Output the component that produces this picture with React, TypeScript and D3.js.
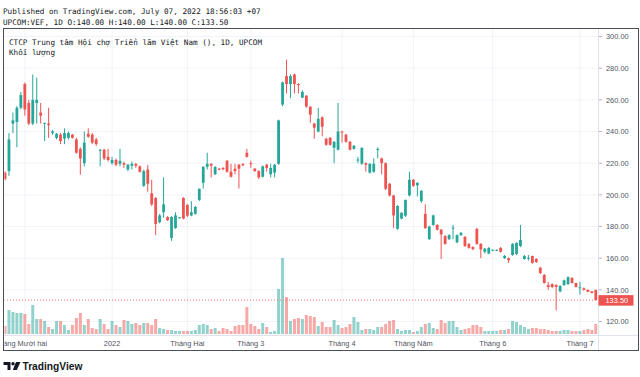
import React, { useEffect } from "react";
import * as d3 from "d3";

// ---- DATA ----
const opens = [214,215,245,246,255,270,258,245,258,252,245,245,239,236,238,235.5,236,238,235,229,220,238.6,238,235,228,228.5,224,220,222,219.6,220,216,218.4,219.6,218,205.7,216,201,198,182.7,189,186,172.8,179,185.5,198,193.7,187,188,196.8,207.6,217.7,219.6,213,216.5,217,221.5,214.6,216.5,219,219.5,226.6,220,216.5,215,211.4,219,213,214,219.6,257,275,270,276,270,261.4,262.6,255.7,245,240,249,235.4,236,229.7,228.5,240,238,233.5,229,222,219.6,220,214,214.6,228.5,223,220,207,199.6,178.5,185,186.8,199.6,209.5,206,196,188,172,181,181,178,174,172,179,170,174.6,173.4,169,167,178.5,169,164,163,165,165,166.5,160,160,162,162.6,167.7,159.5,160,161.4,159.5,154,149.4,143,143.7,143,139,143,143.7,147.5,144.3,141.4,141,140,139,140];
const highs = [215,239,252,256,265,271,260,276,274,258,245.5,255,241,239,239,242,240,238.5,236,230,240,242,239,236,229,229,229,224,223,229,221,219.5,221,220,218.5,216,219,209.5,198.5,188,211,186.5,186.5,189,186,198.5,194,196,193,204,218,226.6,220,218,217,217.5,222,219.6,219.6,219.5,220,229,221.5,217,215.5,218.5,219.5,219.6,219.5,247.5,271.5,285.4,276,276.5,270.5,266,263,256,245.5,255,249.5,236,236.5,234,258,240.5,238.5,234,231.5,224,230,220.5,220,223,230,223.5,220.5,207.5,200,193.5,189,197,214.6,210,208,203,194,180.5,187.5,181.5,178.5,174.5,175,181,175,176.5,174,169.5,167.5,179,169.5,166.5,167,165.5,165.5,167,162,160.5,169.5,170,181,162,162,161.5,160,154.5,150,145,144,143.5,143,146.5,148.5,148,144.5,145,141.5,140.2,139.2,140];
const lows = [209,212,239,230,254,250,244,244,245,245,234,236,238,235,232,232,235,235.5,226,212.7,218,236,232,231,218,222,221,219,218,218,217,215,216,217,214,205,202,193,174.6,182,185.5,183.5,171,178.5,185,184.5,186,186.5,187.5,196,204,216,211,212.5,215.5,215.5,214,211,213,204,218,223.5,217,214.5,210,211,214.6,211,211,219,256,264,261,264,264,261,255,245.6,235.4,239.5,237,231,231,220,228,233,233,228,228.5,220,219,214.6,213.5,214,223,213,203,199,179,178,184.5,186,199,205,199,195,178.5,171.5,180.5,177.5,159.5,168.5,171.5,172,169.5,174,167,166,165,168.5,160,163,162.5,164.5,164.5,163.5,159.5,157,161.5,162,167,159,158.5,156.5,157,150,144,140,141,127,138.5,142.5,143,144,141.5,137,139.5,138.5,137.8,133.5];
const closes = [210,235,247,255,263,254,245,260,260,250,245.5,244,240,238.6,234,239,239,236,226.6,223,233,236.7,233,232,228.5,223,222,222,219,221.5,219,219,219.6,218.4,214.6,215,207,194,181.6,187,194,184,186,187,185.8,185,186.8,189,192.4,203.8,217.7,219.6,218.4,217.7,216,216.2,214.6,211.4,215,216.5,218.8,224,219.6,215,211,218,217,217,219,247,271,270,275,270,269.6,265,255.7,250.6,242.4,248,243,231.6,231.6,233.5,240,239.5,233.5,228.5,231,222.3,229.7,219,219.6,219.6,229,220,203.8,199.6,187,193,188.6,196.8,209.5,205.7,207.6,202.5,179,180,187,178,175,169,174.6,179.3,174.6,176,167.7,166.5,165.8,169,165.5,166,166.5,165.3,165.3,164,161.4,158.7,169,169.6,171.5,161.4,160.3,157,157.6,150.6,144.3,141.8,141.8,141.8,142.4,146,148,144.3,141.8,141.6,140,138.7,138,133.5];
const volumes = [8,24,22,21,21,20,10,29,15,15,13,7,5,13,13,9,4,9,16,21,9,15,6,5,15,10,5,13,9,7,14,13,10,11,9,11,11,9,15,6,5,4,4,3,3,3,3,3,4,9,10,9,5,6,3,6,5,3,8,9,9,27,10,8,5,11,7,2,3,45,76,37,13,15,16,15,19,18,17,8,12,7,7,14,9,6,7,10,17,12,4,5,5,4,7,7,10,13,14,5,3,4,4,2,3,7,10,11,6,5,14,11,13,13,7,4,5,6,9,9,7,3,3,3,3,4,4,5,13,12,9,7,5,6,6,5,5,4,3,3,3,4,4,3,3,3,4,5,4,10];
const monthIndex = [5, 27, 46, 62, 85, 103, 123, 145];
const monthLabels = ["Tháng Mười hai", "2022", "Tháng Hai", "Tháng 3", "Tháng 4", "Tháng Năm", "Tháng 6", "Tháng 7"];
const priceTicks = [120, 140, 160, 180, 200, 220, 240, 260, 280, 300];
const lastPrice = 133.5;
const headerLine1 = "Published on TradingView.com, July 07, 2022 18:56:03 +07";
const headerLine2 = "UPCOM:VEF, 1D O:140.00 H:140.00 L:140.00 C:133.50";
const legendTitle = "CTCP Trung tâm Hội chợ Triển lãm Việt Nam (), 1D, UPCOM";
const legendVolume = "Khối lượng";

const UP = "#26a69a";
const DOWN = "#ef5350";
const UP_VOL = "rgba(38,166,154,0.5)";
const DOWN_VOL = "rgba(239,83,80,0.5)";

export default function App() {
  useEffect(() => {
    document.body.style.margin = "0";
  }, []);

  const W = 640, Hh = 377;
  const paneL = 4, paneR = 598, paneT = 29, paneB = 335, frameB = 350, frameR = 638;

  const x = d3.scaleLinear().domain([0, opens.length - 1]).range([5, 595.8]);
  const y = d3.scaleLinear().domain([120, 300]).range([321.5, 36.5]);
  const yv = d3.scaleLinear().domain([0, 76]).range([334, 258]);

  const bodyW = 2.8;
  const mono = "'DejaVu Sans Mono', monospace";
  const sans = "'Liberation Sans', Arial, sans-serif";

  return (
    <svg width={W} height={Hh} style={{ position: "absolute", left: 0, top: 0, background: "#fff" }}>
      <defs>
        <clipPath id="pane">
          <rect x={paneL + 0.5} y={paneT} width={paneR - paneL - 1} height={paneB - paneT} />
        </clipPath>
        <clipPath id="timeaxis">
          <rect x={paneL + 0.5} y={paneB} width={paneR - paneL - 1} height={frameB - paneB} />
        </clipPath>
      </defs>
      <rect x={0} y={0} width={W} height={Hh} fill="#fff" />

      <text x={3} y={13.7} fontFamily={mono} fontSize={7.65} fill="#131722">{headerLine1}</text>
      <text x={3} y={25.4} fontFamily={mono} fontSize={7.65} fill="#131722">{headerLine2}</text>

      {/* grid */}
      <g clipPath="url(#pane)">
        {priceTicks.map((t) => (
          <line key={"h" + t} x1={paneL} x2={paneR} y1={y(t)} y2={y(t)} stroke="#f0f3fa" strokeWidth={1} />
        ))}
        {monthIndex.map((m) => (
          <line key={"v" + m} x1={x(m)} x2={x(m)} y1={paneT} y2={paneB} stroke="#f0f3fa" strokeWidth={1} />
        ))}

        {/* volume */}
        {volumes.map((v, i) => (
          <rect key={"vol" + i} x={x(i) - 1.5} y={yv(v)} width={3} height={yv(0) - yv(v)}
            fill={closes[i] >= opens[i] ? UP_VOL : DOWN_VOL} />
        ))}

        {/* price line */}
        <line x1={paneL} x2={paneR} y1={y(lastPrice)} y2={y(lastPrice)} stroke={DOWN} strokeOpacity={0.8} strokeWidth={1} strokeDasharray="1,2" />

        {/* candles */}
        {opens.map((o, i) => {
          const c = closes[i];
          const col = c >= o ? UP : DOWN;
          const top = y(Math.max(o, c));
          const bot = y(Math.min(o, c));
          return (
            <g key={"c" + i}>
              <line x1={x(i)} x2={x(i)} y1={y(highs[i])} y2={y(lows[i])} stroke={col} strokeWidth={1} />
              <rect x={x(i) - bodyW / 2} y={top} width={bodyW} height={Math.max(1, bot - top)} fill={col} />
            </g>
          );
        })}
      </g>

      {/* legend */}
      <text x={9} y={45.4} fontFamily={mono} fontSize={7.65} fill="#131722">{legendTitle}</text>
      <text x={9} y={54.6} fontFamily={mono} fontSize={7.65} fill="#131722">{legendVolume}</text>

      {/* separators */}
      <line x1={paneR + 0.5} x2={paneR + 0.5} y1={paneT} y2={frameB} stroke="#e0e3eb" strokeWidth={1} />
      <line x1={paneL} x2={frameR} y1={paneB + 0.5} y2={paneB + 0.5} stroke="#e0e3eb" strokeWidth={1} />

      {/* price axis */}
      {priceTicks.map((t) => (
        <g key={"pt" + t}>
          <line x1={paneR + 1} x2={paneR + 4} y1={y(t)} y2={y(t)} stroke="#b2b5be" strokeWidth={1} />
          <text x={606} y={y(t) + 2.7} fontFamily={sans} fontSize={7.4} fill="#50535e">{t.toFixed(2)}</text>
        </g>
      ))}
      <rect x={paneR + 0.5} y={y(lastPrice) - 5} width={35} height={10.5} fill={DOWN} />
      <text x={605.5} y={y(lastPrice) + 3} fontFamily={sans} fontSize={7.4} fill="#ffffff">{lastPrice.toFixed(2)}</text>

      {/* time axis */}
      <g clipPath="url(#timeaxis)">
        {monthIndex.map((m, k) => (
          <text key={"ml" + m} x={k === 0 ? x(m) - 4 : x(m)} y={345.7} textAnchor="middle" fontFamily={sans} fontSize={7.4} fill="#50535e">{monthLabels[k]}</text>
        ))}
      </g>

      {/* frame */}
      <rect x={paneL - 0.5} y={paneT - 0.5} width={frameR - paneL + 1} height={frameB - paneT + 1} fill="none" stroke="#4a4f5a" strokeWidth={1} />

      {/* logo */}
      <g fill="#131722">
        <path d="M3.5 362 H10.5 V370 H7.5 V365 H3.5 Z" />
        <circle cx={13} cy={363.8} r={1.7} />
        <path d="M16 362 H20.5 L16.8 370 H12.8 Z" />
      </g>
      <text x={22.5} y={370} fontFamily={sans} fontSize={10.2} fontWeight="bold" fill="#131722">TradingView</text>
    </svg>
  );
}
